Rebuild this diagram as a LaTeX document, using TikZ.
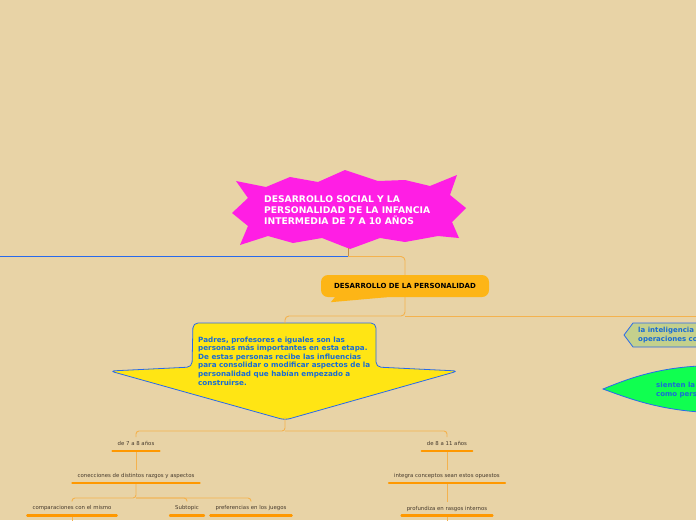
\documentclass[tikz,border=0pt]{standalone}
\usepackage{fontspec}
\setmainfont{DejaVu Sans}
\usepackage{tikz}
\usetikzlibrary{positioning}
\definecolor{paper}{RGB}{232,211,166}
\definecolor{burst}{RGB}{255,30,228}
\definecolor{persorange}{RGB}{253,181,22}
\definecolor{linkorange}{RGB}{244,178,78}
\definecolor{stembrown}{RGB}{196,140,70}
\definecolor{mapblue}{RGB}{40,105,235}
\definecolor{textblue}{RGB}{25,108,212}
\definecolor{arrowyellow}{RGB}{255,229,20}
\definecolor{hexgreen}{RGB}{196,208,140}
\definecolor{leafgreen}{RGB}{16,255,80}
\definecolor{ulorange}{RGB}{255,152,0}
\definecolor{smalltext}{RGB}{70,58,45}

\begin{document}
\begin{tikzpicture}[
    x=1pt, y=-1pt,
    conn/.style={draw=linkorange, line width=0.9pt},
    topic/.style={font=\fontsize{5.4}{6.5}\selectfont, text=smalltext, inner xsep=5pt, inner ysep=4pt, text height=4pt, text depth=1.3pt},
    uline/.style={draw=ulorange, line width=2.4pt, line cap=round},
    bluetext/.style={font=\fontsize{7.2}{8.6}\selectfont\bfseries, text=textblue, align=left, inner sep=0pt, anchor=north west},
    outline/.style={draw=mapblue, line width=0.8pt}
]
\useasboundingbox (0,0) rectangle (696,520);
\fill[paper] (0,0) rectangle (696,520);

% central topic
\fill[burst] (232,213) -- (248,198) -- (236,181) -- (266,187) -- (290,177) -- (318,182)
  -- (345,170) -- (378,181) -- (405,180) -- (430,186) -- (457,175) -- (450,195)
  -- (466,208) -- (452,222) -- (459,238) -- (438,236) -- (405,242) -- (380,238)
  -- (350,249) -- (322,238) -- (293,243) -- (268,236) -- (240,245) -- (248,226) -- cycle;
\node[anchor=north west, inner sep=0pt, align=left, text=white, font=\fontsize{9.2}{11}\selectfont\bfseries] (title) at (264,195)
  {DESARROLLO SOCIAL Y LA\\PERSONALIDAD DE LA INFANCIA\\INTERMEDIA DE 7 A 10 AÑOS};
\coordinate (burstbot) at (348,248);
\coordinate (hub) at (348,256.5);

% main branch
\node[fill=persorange, rounded corners=7pt, minimum width=168pt, minimum height=22pt, font=\fontsize{7}{8}\selectfont\bfseries, text=black] (perso) at (405,286) {DESARROLLO DE LA PERSONALIDAD};
\fill[persorange] ([xshift=14pt]perso.south west) -- ([xshift=10pt,yshift=-5pt]perso.south west) -- ([xshift=66pt]perso.south west) -- cycle;
\coordinate (fork2) at (405,316);

\draw[outline, fill=arrowyellow, rounded corners=5pt] (192,367) -- (193,323) -- (376,323) -- (376,367) -- (458,371) -- (285,420) -- (110,371) -- cycle;
\coordinate (arrowtop) at (285,323);
\coordinate (arrowtip) at (285,417);
\node[bluetext] (padres) at (198,336.5)
  {Padres, profesores e iguales son las\\personas más importantes en esta etapa.\\De estas personas recibe las influencias\\para consolidar o modificar aspectos de la\\personalidad que habían empezado a\\construirse.};

\draw[outline, fill=hexgreen] (624,335) -- (633,323) -- (710,323) -- (710,347) -- (633,347) -- cycle;
\node[bluetext, font=\fontsize{7}{9.5}\selectfont\bfseries] (intel) at (638,326.5) {la inteligencia\\operaciones co};

\draw[outline, fill=leafgreen] (603,389) .. controls (625,380) and (655,368) .. (700,366) -- (700,412) .. controls (655,409) and (625,397) .. (603,389) -- cycle;
\node[bluetext, font=\fontsize{7}{9.3}\selectfont\bfseries] (sienten) at (656,381.5) {sienten la\\como pers};

% subtopics
\node[topic] (age1) at (136,444) {de 7 a 8 años};
\node[topic, below=18.7pt of age1] (conc1) {conecciones de distintos razgos y aspectos};
\node[topic] (comp) at (72,508.5) {comparaciones con el mismo};
\node[topic] (sub) at (187,508.5) {Subtopic};
\node[topic] (pref) at (251,508.5) {preferencias en los juegos};
\node[topic] (age2) at (447,444) {de 8 a 11 años};
\node[topic, below=18.7pt of age2] (integ) {integra conceptos sean estos opuestos};
\node[topic, below=18.7pt of integ] (prof) {profundiza en rasgos internos};
\coordinate (fork3) at (285,431);
\coordinate (fork4) at (136,498);

\draw[draw=stembrown, line width=0.9pt] (burstbot) -- (hub);
\draw[draw=mapblue, line width=1.3pt] (hub) -- (-5,256.5);
\draw[conn, rounded corners=4pt] (hub) -| (perso);
\draw[conn, rounded corners=4pt] (perso) -- (fork2) -| (arrowtop);
\draw[conn] (fork2) -- (705,316);
\draw[conn, rounded corners=3pt] (arrowtip) -- (fork3) -| (age1);
\draw[conn, rounded corners=3pt] (fork3) -| (age2);
\draw[conn] (age1) -- (conc1);
\draw[conn, rounded corners=3pt] (conc1) -- (fork4) -| (comp);
\draw[conn, rounded corners=3pt] (fork4) -| (sub);
\draw[conn, rounded corners=3pt] (fork4) -| (pref);
\draw[conn] (age2) -- (integ);
\draw[conn] (integ) -- (prof);
\draw[conn] (comp.south) -- ++(0,10);
\draw[conn] (prof.south) -- ++(0,10);

\foreach \n in {age1,conc1,comp,sub,pref,age2,integ,prof}
  \draw[uline] (\n.south west) -- (\n.south east);
\end{tikzpicture}
\end{document}
